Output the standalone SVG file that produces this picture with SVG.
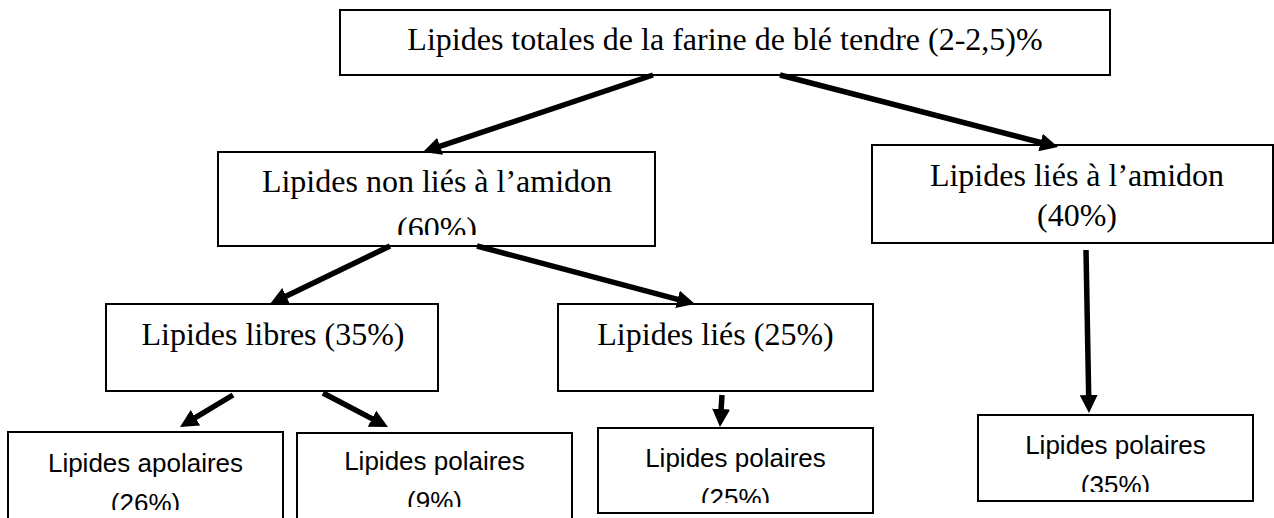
<svg xmlns="http://www.w3.org/2000/svg" width="1274" height="518" viewBox="0 0 1274 518">
<style>
.box{fill:#fff;stroke:#000;stroke-width:2}
.serif{font-family:"Liberation Serif","Times New Roman",serif;font-size:32px;fill:#000;text-anchor:middle}
.sans{font-family:"Liberation Sans",Arial,sans-serif;font-size:26px;fill:#000;text-anchor:middle}
.arr{stroke:#000;stroke-width:5.5;fill:none;marker-end:url(#ah)}
</style>
<defs>
<marker id="ah" markerUnits="userSpaceOnUse" markerWidth="18" markerHeight="18" viewBox="0 0 18 18" refX="2" refY="9" orient="auto">
<path d="M0,0 L18,9 L0,18 z" fill="#000"/>
</marker>
<clipPath id="c60"><rect x="218" y="152" width="437" height="83"/></clipPath>
<clipPath id="c26"><rect x="8" y="432" width="275" height="78"/></clipPath>
<clipPath id="c9"><rect x="297" y="433" width="275" height="74"/></clipPath>
<clipPath id="c25"><rect x="598" y="428" width="275" height="75"/></clipPath>
<clipPath id="c35"><rect x="978" y="415" width="275" height="77"/></clipPath>
</defs>
<rect width="1274" height="518" fill="#fff"/>
<g id="n-total">
<rect class="box" x="340" y="10" width="770" height="65"/>
<text class="serif" x="725" y="50">Lipides totales de la farine de blé tendre (2-2,5)%</text>
</g>
<g id="n-nonlies">
<rect class="box" x="218" y="152" width="437" height="94"/>
<text class="serif" x="437" y="192">Lipides non liés à l’amidon</text>
<text class="serif" x="437" y="239" clip-path="url(#c60)">(60%)</text>
</g>
<g id="n-lies-amidon">
<rect class="box" x="872" y="145" width="401" height="98"/>
<text class="serif" x="1077" y="186">Lipides liés à l’amidon</text>
<text class="serif" x="1077" y="226">(40%)</text>
</g>
<g id="n-libres">
<rect class="box" x="106" y="304" width="332" height="87"/>
<text class="serif" x="273" y="345">Lipides libres (35%)</text>
</g>
<g id="n-lies">
<rect class="box" x="558" y="304" width="315" height="87"/>
<text class="serif" x="715.5" y="345">Lipides liés (25%)</text>
</g>
<g id="n-apolaires">
<rect class="box" x="8" y="432" width="275" height="100"/>
<text class="sans" x="145.5" y="472">Lipides apolaires</text>
<text class="sans" x="145.5" y="512" clip-path="url(#c26)">(26%)</text>
</g>
<g id="n-polaires9">
<rect class="box" x="297" y="433" width="275" height="100"/>
<text class="sans" x="434.5" y="470">Lipides polaires</text>
<text class="sans" x="434.5" y="510" clip-path="url(#c9)">(9%)</text>
</g>
<g id="n-polaires25">
<rect class="box" x="598" y="428" width="275" height="85"/>
<text class="sans" x="735.5" y="467">Lipides polaires</text>
<text class="sans" x="735.5" y="507" clip-path="url(#c25)">(25%)</text>
</g>
<g id="n-polaires35">
<rect class="box" x="978" y="415" width="275" height="86"/>
<text class="sans" x="1115.5" y="454">Lipides polaires</text>
<text class="sans" x="1115.5" y="494" clip-path="url(#c35)">(35%)</text>
</g>
<g id="connectors">
<line class="arr" x1="653" y1="75" x2="438.2" y2="146.9"/>
<line class="arr" x1="780" y1="75" x2="1042.5" y2="143"/>
<line class="arr" x1="390" y1="246" x2="284.4" y2="297"/>
<line class="arr" x1="477" y1="246" x2="679.5" y2="299.9"/>
<line class="arr" x1="1086" y1="250" x2="1088.7" y2="397"/>
<line class="arr" x1="233" y1="395" x2="193.7" y2="418.7"/>
<line class="arr" x1="323" y1="393" x2="373.8" y2="419.6"/>
<line class="arr" x1="722" y1="395" x2="721" y2="411"/>
</g>
</svg>
